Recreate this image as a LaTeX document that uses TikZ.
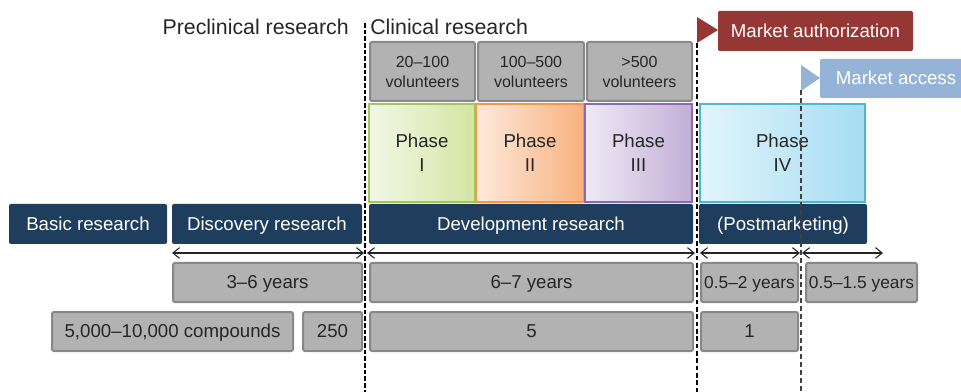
\documentclass[tikz,border=0pt]{standalone}
\usepackage{fontspec}
\setmainfont{Liberation Sans}
\usetikzlibrary{arrows.meta}
\definecolor{navy}{HTML}{1F3E5E}
\definecolor{boxgray}{HTML}{B2B2B2}
\definecolor{boxedge}{HTML}{888888}
\definecolor{txt}{HTML}{262626}
\definecolor{authred}{HTML}{953735}
\definecolor{accblue}{HTML}{95B3D7}
\definecolor{pAl}{HTML}{F2F7E6}\definecolor{pAr}{HTML}{D5E5A3}\definecolor{pAd}{HTML}{9DC75C}
\definecolor{pBl}{HTML}{FDE9DC}\definecolor{pBr}{HTML}{F8B27E}\definecolor{pBd}{HTML}{F79646}
\definecolor{pCl}{HTML}{EEEAF4}\definecolor{pCr}{HTML}{C3AED6}\definecolor{pCd}{HTML}{8A6AB0}
\definecolor{pDl}{HTML}{E2F4FB}\definecolor{pDr}{HTML}{A6DDF2}\definecolor{pDd}{HTML}{4BB8D0}
\newcommand\bx[7]{\node[#6, minimum width={(#4-#2)*0.75pt}, minimum height={(#5-#3)*0.75pt}] (#1) at ({(#2+#4)/2},{(#3+#5)/2}) {#7};}
\begin{document}
\begin{tikzpicture}[x=0.75pt,y=-0.75pt,
  base/.style={inner sep=0pt, outer sep=0pt, align=center},
  one/.style={text height=10pt, text depth=0.5pt},
  onesmall/.style={font=\fontsize{13}{16}\selectfont, text height=9.3pt, text depth=0.5pt},
  navybox/.style={base, one, fill=navy, rounded corners=1.5pt, text=white, font=\fontsize{14}{17}\selectfont},
  grayshape/.style={base, fill=boxgray, draw=boxedge, line width=1.5pt, rounded corners=1.5pt, text=txt, font=\fontsize{14}{17}\selectfont},
  graybox/.style={grayshape, one},
  volbox/.style={grayshape, font=\fontsize{12}{15}\selectfont},
  phasebox/.style={base, line width=0.9pt, text=txt, font=\fontsize{14}{18}\selectfont},
  span/.style={{Straight Barb[length=5pt,width=8pt]}-{Straight Barb[length=5pt,width=8pt]}, line width=0.8pt, draw=txt},
  heading/.style={inner sep=0pt, text=txt, font=\fontsize{16}{19}\selectfont}]
\useasboundingbox (0,0) rectangle (961,392);

% headings
\node[heading, anchor=base east] (pre) at (349,35) {Preclinical research};
\node[heading, anchor=base west] (cli) at (370,35) {Clinical research};

% volunteer boxes
\bx{v1}{370}{42}{475}{101}{volbox}{20–100\\volunteers}
\bx{v2}{478}{42}{584}{101}{volbox}{100–500\\volunteers}
\bx{v3}{587}{42}{692}{101}{volbox}{>500\\volunteers}

% phase boxes
\bx{p1}{369}{104}{475}{202}{phasebox, draw=pAd, left color=pAl, right color=pAr}{Phase\\I}
\bx{p2}{476}{104}{584}{202}{phasebox, draw=pBd, left color=pBl, right color=pBr}{Phase\\II}
\bx{p3}{585}{104}{692}{202}{phasebox, draw=pCd, left color=pCl, right color=pCr}{Phase\\III}
\bx{p4}{700}{104}{865}{202}{phasebox, draw=pDd, left color=pDl, right color=pDr}{Phase\\IV}

% navy bars
\bx{basic}{9}{204}{167}{244}{navybox}{Basic research}
\bx{disc}{172}{204}{362}{244}{navybox}{Discovery research}
\bx{dev}{369}{204}{693}{244}{navybox}{Development research}
\bx{post}{699}{204}{867}{244}{navybox}{(Postmarketing)}

% years boxes
\bx{y1}{173}{263}{362}{302}{graybox}{3–6 years}
\bx{y2}{370}{263}{693}{302}{graybox}{6–7 years}
\bx{y3}{701}{263}{798}{302}{graybox, onesmall}{0.5–2 years}
\bx{y4}{806}{263}{917}{302}{graybox, onesmall}{0.5–1.5 years}

% compounds boxes
\bx{c1}{52}{312}{293}{351}{graybox}{5,000–10,000 compounds}
\bx{c2}{303}{312}{362}{351}{graybox}{250}
\bx{c3}{370}{312}{693}{351}{graybox}{5}
\bx{c4}{701}{312}{798}{351}{graybox}{1}

% market flags
\bx{auth}{718}{11}{913}{51}{base, one, fill=authred, rounded corners=1pt, text=white, font=\fontsize{14}{17}\selectfont}{Market authorization}
\fill[authred] (697,17) -- (718,30) -- (697,43) -- cycle;
\bx{acc}{820}{59}{972}{98}{base, one, fill=accblue, rounded corners=1pt, text=white, font=\fontsize{14}{17}\selectfont}{Market access}
\fill[accblue] (801,65) -- (820,78) -- (801,91) -- cycle;

% dividing lines
\coordinate (d1t) at (365,23); \coordinate (d1b) at (365,392);
\coordinate (d2t) at (697,43); \coordinate (d2b) at (697,392);
\coordinate (d3t) at (801,90); \coordinate (d3b) at (801,392);
\draw[black, line width=1.5pt, dash pattern=on 3.5pt off 1.5pt] (d1t) -- (d1b);
\draw[black, line width=0.9pt, dash pattern=on 3.5pt off 2pt] (d2t) -- (d2b);
\draw[black!75, line width=1.1pt, dash pattern=on 4pt off 2pt] (d3t) -- (d3b);

% span arrows
\coordinate (a1) at (172,253); \coordinate (a2) at (364,253);
\coordinate (a3) at (367,253); \coordinate (a4) at (695,253);
\coordinate (a5) at (700,253); \coordinate (a6) at (800,253);
\coordinate (a7) at (802,253); \coordinate (a8) at (883,253);
\draw[span] (a1) -- (a2);
\draw[span] (a3) -- (a4);
\draw[span] (a5) -- (a6);
\draw[span] (a7) -- (a8);
\end{tikzpicture}
\end{document}
